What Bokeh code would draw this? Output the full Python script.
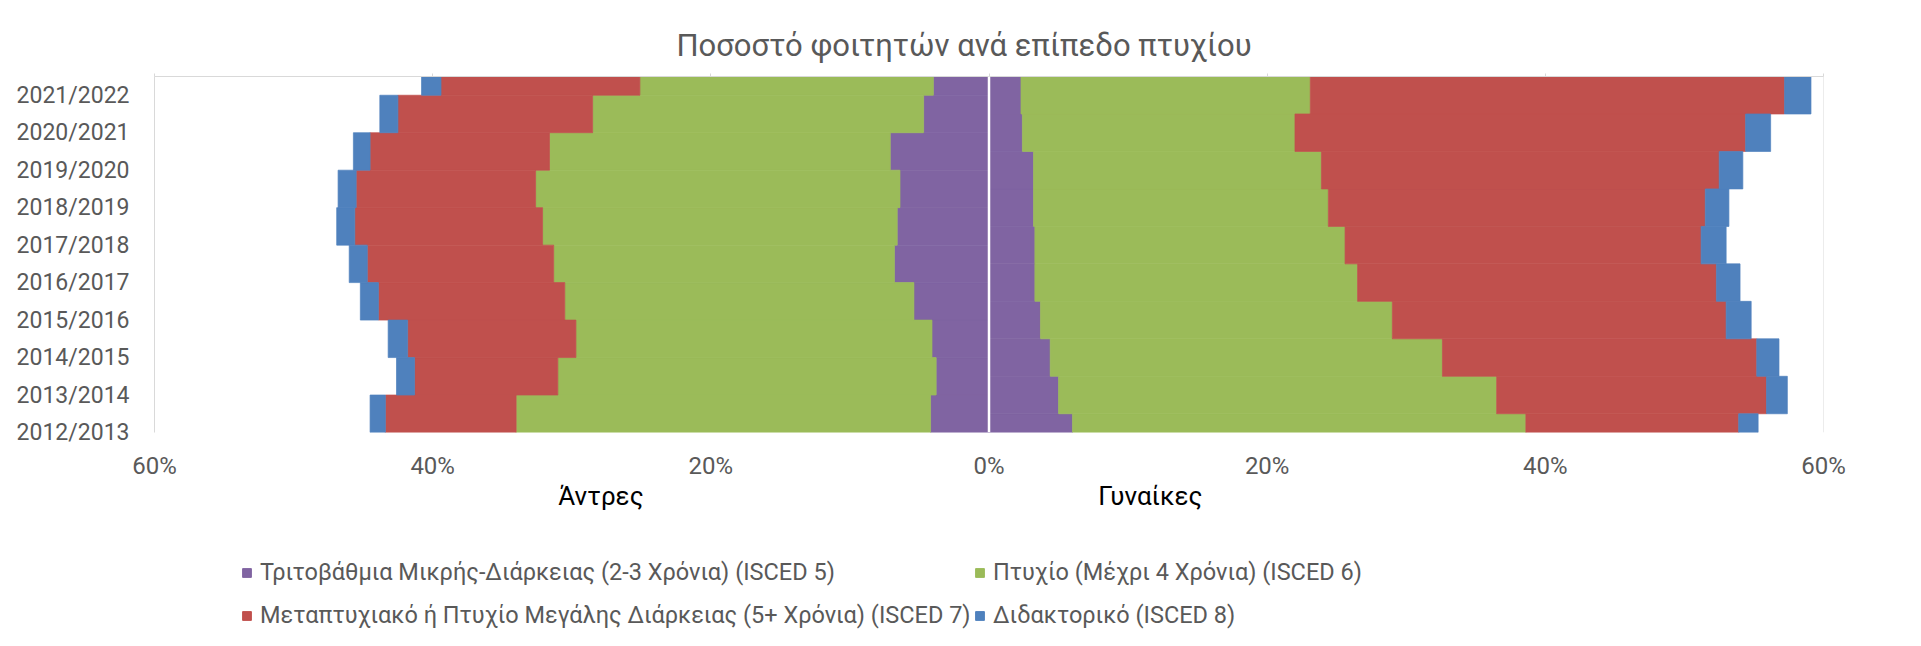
from bokeh.plotting import figure
from bokeh.layouts import column
from bokeh.models import (ColumnDataSource, Range1d, FixedTicker, LinearAxis, Span, Title,
                          Legend, LegendItem)
from bokeh.embed import file_html
from bokeh.resources import INLINE

# ---------------- data (percent of all students, 2012/2013 -> 2021/2022) ----------------
years = ["2012/2013", "2013/2014", "2014/2015", "2015/2016", "2016/2017",
         "2017/2018", "2018/2019", "2019/2020", "2020/2021", "2021/2022"]

series_names = [
    "Τριτοβάθμια Μικρής-Διάρκειας (2-3 Χρόνια) (ISCED 5)",
    "Πτυχίο (Μέχρι 4 Χρόνια) (ISCED 6)",
    "Μεταπτυχιακό ή Πτυχίο Μεγάλης Διάρκειας (5+ Χρόνια) (ISCED 7)",
    "Διδακτορικό (ISCED 8)",
]
colors = ["#8064A2", "#9BBB59", "#C0504D", "#4F81BD"]

# Men (Άντρες)
men_isced5 = [4.2, 3.8, 4.1, 5.4, 6.8, 6.6, 6.4, 7.1, 4.7, 4.0]
men_isced6 = [29.8, 27.2, 25.6, 25.1, 24.5, 25.5, 26.2, 24.5, 23.8, 21.1]
men_isced7 = [9.4, 10.3, 12.1, 13.4, 13.4, 13.5, 12.9, 12.9, 14.0, 14.3]
men_isced8 = [1.1, 1.3, 1.4, 1.3, 1.3, 1.3, 1.3, 1.2, 1.3, 1.4]

# Women (Γυναίκες)
women_isced5 = [6.0, 5.0, 4.4, 3.7, 3.3, 3.3, 3.2, 3.2, 2.4, 2.3]
women_isced6 = [32.6, 31.5, 28.2, 25.3, 23.2, 22.3, 21.2, 20.7, 19.6, 20.8]
women_isced7 = [15.3, 19.4, 22.6, 24.0, 25.8, 25.6, 27.1, 28.6, 32.4, 34.1]
women_isced8 = [1.4, 1.5, 1.6, 1.8, 1.7, 1.8, 1.7, 1.7, 1.8, 1.9]

x_ticks = [-60, -40, -20, 0, 20, 40, 60]
side_labels = {-27.9: "Άντρες", 11.6: "Γυναίκες"}

# ---------------- sources ----------------
n = len(years)
src = ColumnDataSource(dict(
    yf=[i for i in range(n)],
    ym=[i + 0.5 for i in range(n)],   # men's series sits half a category higher (as in the original)
    m5=[-v for v in men_isced5], m6=[-v for v in men_isced6],
    m7=[-v for v in men_isced7], m8=[-v for v in men_isced8],
    f5=women_isced5, f6=women_isced6, f7=women_isced7, f8=women_isced8,
))

GRAY = "#595959"
FONT = "Roboto"

p = figure(width=1905, height=530, output_backend="svg", toolbar_location=None,
           x_range=Range1d(-60, 60), y_range=Range1d(0, 9.5),
           min_border_left=154, min_border_right=82, min_border_top=76, min_border_bottom=98)
p.outline_line_color = None
p.grid.visible = False

rm = p.hbar_stack(["m5", "m6", "m7", "m8"], y="ym", height=1.0, source=src,
                  color=colors, line_width=0.7)
rf = p.hbar_stack(["f5", "f6", "f7", "f8"], y="yf", height=1.0, source=src,
                  color=colors, line_width=0.7)

# x axis (bottom)
xa = p.xaxis[0]
xa.ticker = FixedTicker(ticks=x_ticks)
xa.major_label_overrides = {t: f"{abs(t)}%" for t in x_ticks}
xa.axis_line_color = None
xa.major_tick_line_color = None
xa.minor_tick_line_color = None
xa.major_label_text_font = FONT
xa.major_label_text_font_size = "24px"
xa.major_label_text_color = GRAY
xa.major_label_standoff = 13

# second bottom axis carrying the side names
sa = LinearAxis(ticker=FixedTicker(ticks=list(side_labels.keys())))
sa.major_label_overrides = side_labels
sa.axis_line_color = None
sa.major_tick_line_color = None
sa.minor_tick_line_color = None
sa.major_label_text_font = FONT
sa.major_label_text_font_size = "26px"
sa.major_label_text_color = "black"
sa.major_label_standoff = -8
p.add_layout(sa, "below")

# top axis: line + small ticks, no labels
ta = LinearAxis(ticker=FixedTicker(ticks=x_ticks))
ta.major_label_overrides = {t: "" for t in x_ticks}
ta.axis_line_color = "#D9D9D9"
ta.major_tick_line_color = "#D9D9D9"
ta.major_tick_out = 3
ta.major_tick_in = 0
ta.minor_tick_line_color = None
ta.major_label_text_font_size = "1px"
p.add_layout(ta, "above")

# title
p.add_layout(Title(text="Ποσοστό φοιτητών ανά επίπεδο πτυχίου", align="left", offset=522,
                   text_font=FONT, text_font_size="31px", text_color=GRAY,
                   text_font_style="normal", standoff=20), "above")

# y axis
ya = p.yaxis[0]
ya.ticker = FixedTicker(ticks=list(range(n)))
ya.major_label_overrides = {i: years[i] for i in range(n)}
ya.axis_line_color = "#D9D9D9"
ya.major_tick_line_color = None
ya.minor_tick_line_color = None
ya.major_label_text_font = FONT
ya.major_label_text_font_size = "23px"
ya.major_label_text_color = GRAY
ya.major_label_standoff = 19

# right border line and central divider
p.add_layout(Span(location=60, dimension="height", line_color="#D9D9D9", line_width=1))
p.add_layout(Span(location=0, dimension="height", line_color="white", line_width=2.5))

# ---------------- legend strip (2 x 2 grid) ----------------
pl = figure(width=1905, height=100, output_backend="svg", toolbar_location=None,
            x_range=Range1d(-60, 60), y_range=Range1d(100, 101),
            min_border_left=0, min_border_right=0, min_border_top=0, min_border_bottom=0)
pl.axis.visible = False
pl.grid.visible = False
pl.outline_line_color = None
# same series as the chart; they lie outside this strip's range and only feed the legend swatches
sw = pl.hbar_stack(["f5", "f6", "f7", "f8"], y="yf", height=1.0, source=src, color=colors)

common = dict(orientation="vertical", padding=0, margin=0, spacing=15,
              glyph_width=11, glyph_height=11, label_standoff=8,
              label_text_font=FONT, label_text_font_size="23.5px", label_text_color=GRAY,
              border_line_color=None, background_fill_alpha=0)
leg_a = Legend(items=[LegendItem(label=series_names[0], renderers=[sw[0]]),
                      LegendItem(label=series_names[2], renderers=[sw[2]])],
               location=(87, 1), **common)
leg_b = Legend(items=[LegendItem(label=series_names[1], renderers=[sw[1]]),
                      LegendItem(label=series_names[3], renderers=[sw[3]])],
               location=(820, 1), **common)
pl.add_layout(leg_a, "center")
pl.add_layout(leg_b, "center")

open("out.html", "w").write(file_html(column(p, pl), INLINE))
